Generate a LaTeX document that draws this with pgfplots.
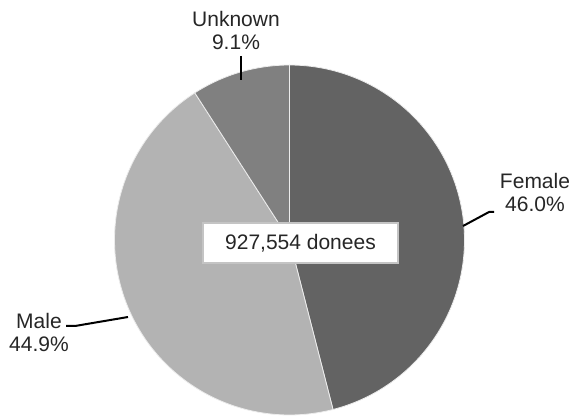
\documentclass[border=0pt]{standalone}
\usepackage{pgfplots}
\pgfplotsset{compat=1.18}
\usepackage{fontspec}
\setmainfont{Liberation Sans}
\definecolor{cfem}{HTML}{636363}
\definecolor{cmale}{HTML}{B3B3B3}
\definecolor{cunk}{HTML}{808080}
\definecolor{cbox}{HTML}{C4C4C4}
\definecolor{ctext}{HTML}{262626}
\begin{document}
\fontsize{21bp}{23bp}\selectfont
\begin{tikzpicture}
% values (percent)
\pgfmathsetmacro{\vF}{46.0}
\pgfmathsetmacro{\vM}{44.9}
\pgfmathsetmacro{\vU}{9.1}
\pgfmathsetmacro{\aA}{90}
\pgfmathsetmacro{\aB}{90-3.6*\vF}
\pgfmathsetmacro{\aC}{\aB-3.6*\vM}
\pgfmathsetmacro{\aD}{\aC-3.6*\vU}
\begin{axis}[
  hide axis, scale only axis,
  width=573bp, height=420bp,
  xmin=0, xmax=573, ymin=0, ymax=420,
  clip=false,
]
\path (axis cs:0,0) rectangle (axis cs:573,420);
\addplot[fill=cfem, draw=white!85!gray, line width=0.8bp, domain=\aB:\aA, samples=120, variable=\t]
  ({289.5+175*cos(\t)},{180+175*sin(\t)}) -- (axis cs:289.5,180) -- cycle;
\addplot[fill=cmale, draw=white!85!gray, line width=0.8bp, domain=\aC:\aB, samples=120, variable=\t]
  ({289.5+175*cos(\t)},{180+175*sin(\t)}) -- (axis cs:289.5,180) -- cycle;
\addplot[fill=cunk, draw=white!85!gray, line width=0.8bp, domain=\aD:\aC, samples=60, variable=\t]
  ({289.5+175*cos(\t)},{180+175*sin(\t)}) -- (axis cs:289.5,180) -- cycle;
% leader lines
\addplot[black, line width=2bp] coordinates {(463,194) (489,208) (494,208)};
\addplot[black, line width=2bp] coordinates {(128,103) (75,94) (66,94)};
\addplot[black, line width=2bp] coordinates {(240.5,364) (240.5,340)};
% labels
\node[align=center, inner sep=0pt, text=ctext] at (axis cs:535,228) {Female\\46.0\%};
\node[align=center, inner sep=0pt, text=ctext] at (axis cs:39,88) {Male\\44.9\%};
\node[align=center, inner sep=0pt, text=ctext] at (axis cs:236,390) {Unknown\\9.1\%};
\node[draw=cbox, line width=2bp, fill=white, minimum width=195bp, minimum height=40bp, inner sep=0pt, text=ctext]
  at (axis cs:300.5,177) {927,554 donees};
\end{axis}
\end{tikzpicture}
\end{document}
